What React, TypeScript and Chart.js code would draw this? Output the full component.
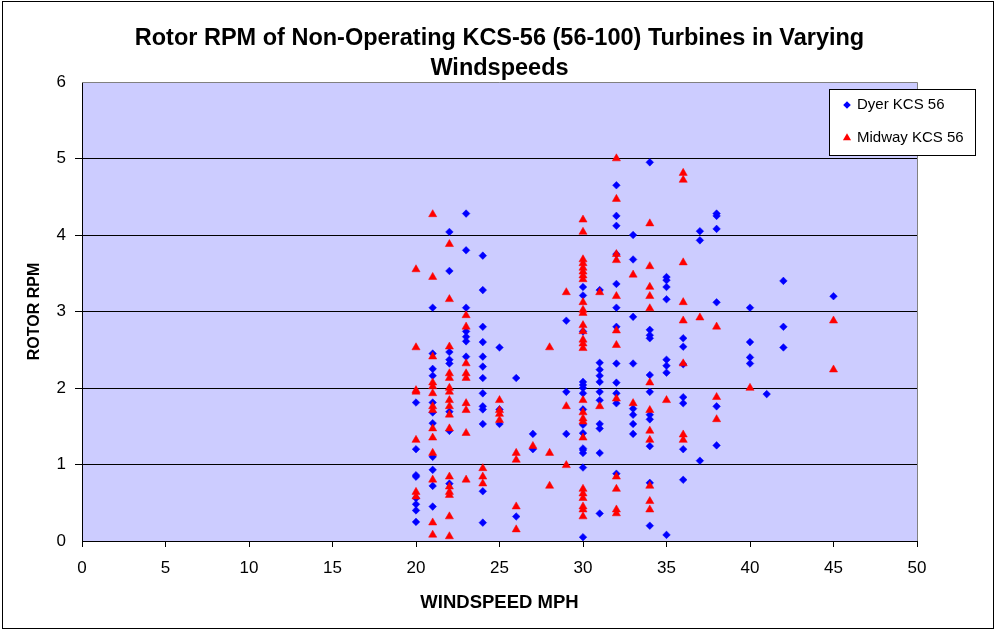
import React, { useEffect, useRef } from 'react';
import { Chart, registerables } from 'chart.js';

Chart.register(...registerables);

const titleLines = ['Rotor RPM of Non-Operating KCS-56 (56-100) Turbines in Varying', 'Windspeeds'];
const xAxisTitle = 'WINDSPEED MPH';
const yAxisTitle = 'ROTOR RPM';
const seriesNames = ['Dyer KCS 56', 'Midway KCS 56'];

const windspeeds = [20, 21, 22, 23, 24, 25, 26, 27, 28, 29, 30, 31, 32, 33, 34, 35, 36, 37, 38, 40, 41, 42, 45];

const dyerRpm = [
  [1.81, 1.2, 0.86, 0.84, 0.56, 0.48, 0.4, 0.25],
  [3.05, 2.45, 2.25, 2.16, 1.81, 1.68, 1.54, 1.1, 0.93, 0.72, 0.45],
  [4.04, 3.53, 2.47, 2.37, 2.32, 1.69, 1.44, 0.75],
  [4.28, 3.8, 3.05, 2.74, 2.67, 2.61, 2.41],
  [3.73, 3.28, 2.8, 2.6, 2.41, 2.28, 2.13, 1.93, 1.76, 1.72, 1.53, 0.65, 0.24],
  [2.53, 1.72, 1.53],
  [2.13, 0.32],
  [1.4, 1.2],
  [],
  [2.88, 1.95, 1.4],
  [3.32, 3.21, 2.74, 2.08, 2.04, 2.0, 1.93, 1.72, 1.52, 1.41, 1.21, 1.19, 1.15, 0.96, 0.05],
  [3.28, 2.33, 2.24, 2.16, 2.08, 1.95, 1.84, 1.53, 1.47, 1.15, 0.36],
  [4.65, 4.25, 4.12, 3.75, 3.36, 3.05, 2.8, 2.32, 2.07, 1.93, 1.8, 0.88],
  [4.0, 3.68, 2.93, 2.32, 1.73, 1.65, 1.53, 1.4],
  [4.95, 2.76, 2.69, 2.65, 2.17, 1.95, 1.65, 1.59, 1.24, 0.76, 0.2],
  [3.45, 3.41, 3.32, 3.16, 2.37, 2.29, 2.2, 0.08],
  [2.65, 2.54, 2.31, 1.88, 1.8, 1.2, 0.8],
  [4.05, 3.93, 1.05],
  [4.28, 4.25, 4.08, 3.12, 1.76, 1.25],
  [3.05, 2.6, 2.4, 2.32],
  [1.92],
  [3.4, 2.8, 2.53],
  [3.2],
];

const midwayRpm = [
  [3.55, 2.53, 1.97, 1.95, 1.32, 0.64, 0.58],
  [4.27, 3.45, 2.41, 2.07, 2.02, 1.93, 1.76, 1.71, 1.47, 1.35, 1.15, 0.8, 0.24, 0.08],
  [3.88, 3.16, 2.54, 2.19, 2.13, 2.0, 1.95, 1.84, 1.76, 1.65, 1.47, 0.84, 0.71, 0.64, 0.6, 0.32, 0.06],
  [2.95, 2.8, 2.32, 2.19, 2.13, 1.8, 1.71, 1.41, 0.8],
  [0.95, 0.84, 0.75],
  [1.84, 1.71, 1.66, 1.58],
  [1.15, 1.06, 0.45, 0.15],
  [1.24],
  [2.53, 1.15, 0.72],
  [3.25, 1.76, 0.99],
  [4.2, 4.04, 3.68, 3.63, 3.57, 3.52, 3.47, 3.42, 3.12, 3.02, 2.98, 2.82, 2.74, 2.63, 2.58, 2.52, 1.84, 1.68, 1.6, 1.56, 1.35, 0.68, 0.62, 0.56, 0.45, 0.41, 0.32],
  [3.25, 1.76],
  [5.0, 4.47, 3.75, 3.67, 3.2, 2.75, 2.56, 1.86, 0.84, 0.68, 0.41, 0.36],
  [3.48, 1.8],
  [4.15, 3.59, 3.32, 3.2, 3.04, 2.07, 1.71, 1.44, 1.32, 0.72, 0.52, 0.41],
  [1.84],
  [4.81, 4.72, 3.64, 3.12, 2.88, 2.32, 1.39, 1.32],
  [2.92],
  [2.8, 1.88, 1.59],
  [2.0],
  [],
  [],
  [2.88, 2.24],
];

const xTicks = [0, 5, 10, 15, 20, 25, 30, 35, 40, 45, 50];
const yTicks = [0, 1, 2, 3, 4, 5, 6];

const FONT = "'Liberation Sans', Arial, sans-serif";

function toPoints(groups: number[][]) {
  const pts: { x: number; y: number }[] = [];
  groups.forEach((vals, i) => vals.forEach((v) => pts.push({ x: windspeeds[i], y: v })));
  return pts;
}

function drawMarker(ctx: CanvasRenderingContext2D, style: string, r: number, x: number, y: number) {
  ctx.beginPath();
  if (style === 'rectRot') {
    ctx.moveTo(x, y - r);
    ctx.lineTo(x + r, y);
    ctx.lineTo(x, y + r);
    ctx.lineTo(x - r, y);
  } else {
    for (let k = 0; k < 3; k++) {
      const ang = (k * 2 * Math.PI) / 3;
      const px = x + Math.sin(ang) * r;
      const py = y - Math.cos(ang) * r;
      if (k === 0) ctx.moveTo(px, py);
      else ctx.lineTo(px, py);
    }
  }
  ctx.closePath();
  ctx.fill();
}

const framePlugin = {
  id: 'frame',
  beforeDraw(chart: any) {
    const { ctx, chartArea: a } = chart;
    ctx.save();
    ctx.fillStyle = '#ffffff';
    ctx.fillRect(0, 0, chart.width, chart.height);
    ctx.fillStyle = '#CCCCFF';
    ctx.fillRect(a.left, a.top, a.right - a.left, a.bottom - a.top);
    ctx.restore();
  },
  afterDraw(chart: any) {
    const { ctx, chartArea: a } = chart;
    ctx.save();
    ctx.strokeStyle = '#808080';
    ctx.lineWidth = 1;
    ctx.beginPath();
    ctx.moveTo(a.left, a.top + 0.5);
    ctx.lineTo(a.right + 0.5, a.top + 0.5);
    ctx.lineTo(a.right + 0.5, a.bottom);
    ctx.stroke();
    ctx.strokeStyle = '#000000';
    ctx.strokeRect(2.5, 1.5, 991, 627);
    // legend
    const lx = 829, ly = 89, lw = 146, lh = 66;
    ctx.fillStyle = '#ffffff';
    ctx.fillRect(lx, ly, lw, lh);
    ctx.strokeStyle = '#000000';
    ctx.strokeRect(lx + 0.5, ly + 0.5, lw, lh);
    ctx.font = `15px ${FONT}`;
    ctx.textBaseline = 'middle';
    ctx.textAlign = 'left';
    const rows = [105, 138];
    chart.data.datasets.forEach((ds: any, i: number) => {
      const y = rows[i];
      ctx.fillStyle = ds.backgroundColor;
      drawMarker(ctx, ds.pointStyle, ds.pointRadius, 847, y);
      ctx.fillStyle = '#000000';
      ctx.fillText(ds.label, 857, y);
    });
    ctx.restore();
  },
};

export default function App() {
  const ref = useRef<HTMLCanvasElement>(null);
  useEffect(() => {
    document.body.style.margin = '0';
    const chart = new Chart(ref.current!, {
      type: 'scatter',
      data: {
        datasets: [
          {
            label: seriesNames[0],
            data: toPoints(dyerRpm),
            pointStyle: 'rectRot',
            pointRadius: 3.8,
            backgroundColor: '#0000FF',
            borderColor: '#0000FF',
            borderWidth: 0.5,
            order: 2,
          },
          {
            label: seriesNames[1],
            data: toPoints(midwayRpm),
            pointStyle: 'triangle',
            pointRadius: 4.7,
            backgroundColor: '#FF0000',
            borderColor: '#FF0000',
            borderWidth: 0.5,
            order: 1,
          },
        ],
      },
      plugins: [framePlugin],
      options: {
        animation: false,
        responsive: false,
        devicePixelRatio: 1,
        layout: { padding: { left: 0, right: 79, top: 0, bottom: 0 } },
        plugins: {
          legend: { display: false },
          tooltip: { enabled: false },
          title: {
            display: true,
            fullSize: false,
            text: titleLines,
            color: '#000000',
            font: { family: FONT, size: 23.5, weight: 'bold', lineHeight: 30 / 23.5 },
            padding: { top: 24, bottom: -2 },
          },
        },
        scales: {
          x: {
            type: 'linear',
            min: 0,
            max: 50,
            afterBuildTicks: (s: any) => { s.ticks = xTicks.map((v) => ({ value: v })); },
            ticks: { color: '#000000', font: { family: FONT, size: 17 }, padding: 11, maxRotation: 0 },
            grid: { drawOnChartArea: false, tickLength: 6, color: '#000000' },
            border: { color: '#000000', width: 1 },
            title: {
              display: true,
              text: xAxisTitle,
              color: '#000000',
              font: { family: FONT, size: 18.5, weight: 'bold', lineHeight: 1.2 },
              padding: { top: 0, bottom: 16 },
            },
            afterFit: (s: any) => { s.height = 89; },
          },
          y: {
            type: 'linear',
            min: 0,
            max: 6,
            afterBuildTicks: (s: any) => { s.ticks = yTicks.map((v) => ({ value: v })); },
            ticks: { color: '#000000', font: { family: FONT, size: 17 }, padding: 9 },
            grid: {
              tickLength: 7,
              color: (c: any) => (c.tick && (c.tick.value === 0 || c.tick.value === 6) ? 'rgba(0,0,0,0)' : '#000000'),
              lineWidth: 1,
            },
            border: { color: '#000000', width: 1 },
            title: {
              display: true,
              text: yAxisTitle,
              color: '#000000',
              font: { family: FONT, size: 16, weight: 'bold', lineHeight: 1.2 },
              padding: { top: 25, bottom: 0 },
            },
            afterFit: (s: any) => { s.width = 82; },
          },
        },
      },
    } as any);
    return () => chart.destroy();
  }, []);
  return (
    <div style={{ width: 996, height: 630 }}>
      <canvas ref={ref} width={996} height={630} style={{ display: 'block' }} />
    </div>
  );
}
